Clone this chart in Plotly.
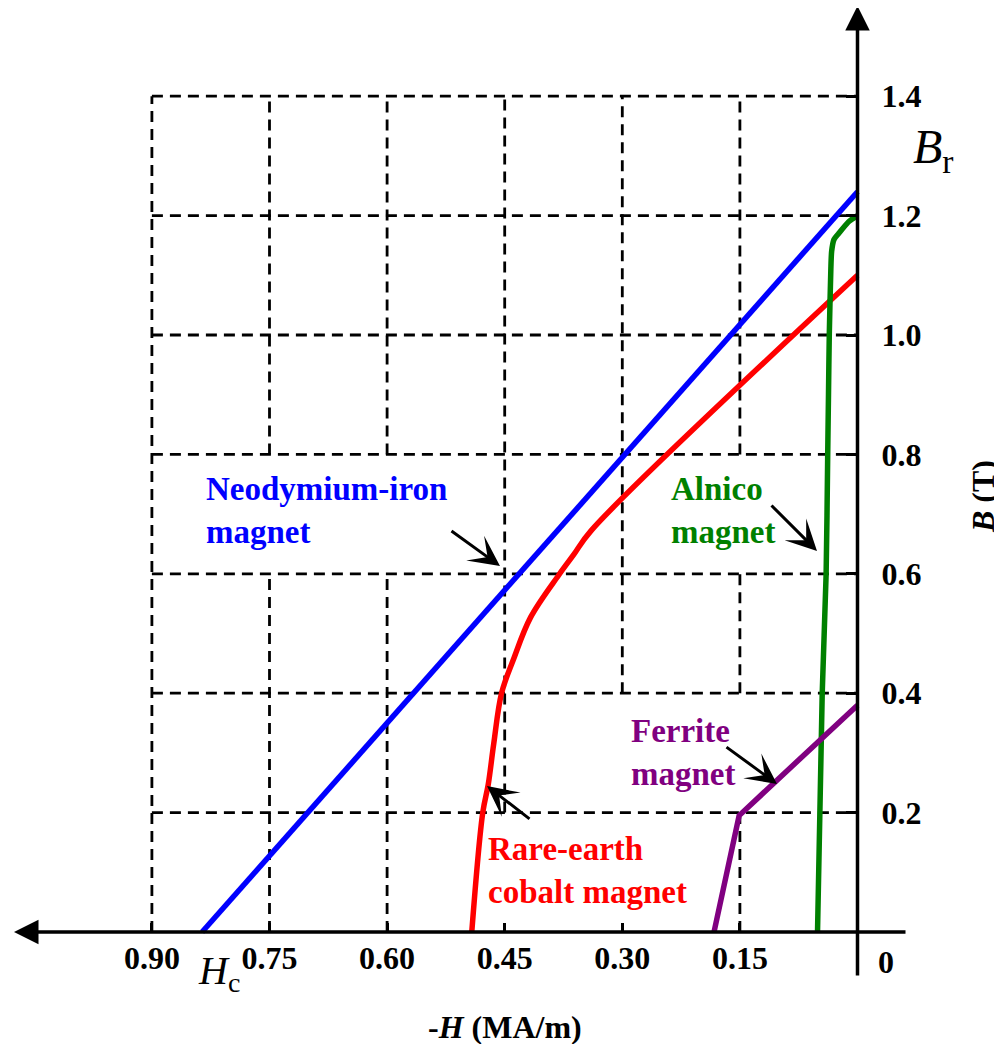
import plotly.graph_objects as go

# ---------------- data ----------------
neo_h = [0.0, 0.836]
neo_b = [1.24, 0.0]

rec_h = [0.0, 0.340, 0.362, 0.381, 0.417, 0.439, 0.454, 0.464, 0.471, 0.478, 0.492]
rec_b = [1.10, 0.672, 0.632, 0.598, 0.527, 0.456, 0.400, 0.315, 0.247, 0.200, 0.0]

aln_h = [0.0, 0.011, 0.024, 0.030, 0.033, 0.034, 0.036, 0.037, 0.038, 0.040, 0.045, 0.051]
aln_b = [1.20, 1.19, 1.17, 1.16, 1.14, 1.11, 1.00, 0.90, 0.80, 0.60, 0.40, 0.0]

fer_h = [0.0, 0.151, 0.183]
fer_b = [0.38, 0.195, 0.0]

h_ticks = [0.15, 0.30, 0.45, 0.60, 0.75, 0.90]
h_tick_labels = ["0.15", "0.30", "0.45", "0.60", "0.75", "0.90"]
b_ticks = [0.2, 0.4, 0.6, 0.8, 1.0, 1.2, 1.4]
b_tick_labels = ["0.2", "0.4", "0.6", "0.8", "1.0", "1.2", "1.4"]

# grid segments (dashed box grid with gaps around labels)
grid_vertical = {
    0.90: [(0.0, 1.4)],
    0.75: [(0.8, 1.4), (0.0, 0.6)],
    0.60: [(0.8, 1.4), (0.0, 0.6)],
    0.45: [(0.2, 1.4)],
    0.30: [(0.4, 1.4)],
    0.15: [(0.8, 1.4), (0.4, 0.6), (0.0, 0.2)],
}
grid_h_span = (0.90, 0.0)

# ---------------- layout geometry ----------------
PAGE_W, PAGE_H = 1002, 1044
OFF = 8                       # browser body margin
W, H = PAGE_W - OFF, PAGE_H - OFF
# page-pixel positions of the origin and scale
X0_PAGE, PX_PER_H = 857.5, 784.0
Y0_PAGE, PX_PER_B = 932.0, 597.0
X0_PX = X0_PAGE - OFF
Y0_PX = Y0_PAGE - OFF


def hx(px):
    """page pixel x -> H value"""
    return (X0_PAGE - px) / PX_PER_H


def by(py):
    """page pixel y -> B value"""
    return (Y0_PAGE - py) / PX_PER_B


FONT = "Liberation Serif, Times New Roman, serif"

fig = go.Figure()

line_w = 5.5
fig.add_trace(go.Scatter(x=neo_h, y=neo_b, mode="lines",
                         line=dict(color="#0000FF", width=line_w), showlegend=False))
fig.add_trace(go.Scatter(x=rec_h, y=rec_b, mode="lines",
                         line=dict(color="#FF0000", width=line_w, shape="spline", smoothing=1.0),
                         showlegend=False))
fig.add_trace(go.Scatter(x=aln_h, y=aln_b, mode="lines",
                         line=dict(color="#008000", width=line_w, shape="spline", smoothing=0.6),
                         showlegend=False))
fig.add_trace(go.Scatter(x=fer_h, y=fer_b, mode="lines",
                         line=dict(color="#800080", width=line_w), showlegend=False))

shapes = []
grid_style = dict(color="black", width=2.8, dash="11px,7px")
for xv, segs in grid_vertical.items():
    for (y0, y1) in segs:
        shapes.append(dict(type="line", xref="x", yref="y", x0=xv, x1=xv, y0=y0, y1=y1,
                           line=grid_style, layer="below"))
for yv in b_ticks:
    shapes.append(dict(type="line", xref="x", yref="y", x0=grid_h_span[0], x1=grid_h_span[1],
                       y0=yv, y1=yv, line=grid_style, layer="below"))

annotations = []
# axis lines with arrow heads
annotations.append(dict(x=hx(14), y=0, ax=hx(907), ay=0, xref="x", yref="y", axref="x", ayref="y",
                        text="", showarrow=True, arrowhead=2, arrowsize=1.4, arrowwidth=3.5,
                        arrowcolor="black", standoff=0, startstandoff=0))
annotations.append(dict(x=0, y=by(6), ax=0, ay=by(977), xref="x", yref="y", axref="x", ayref="y",
                        text="", showarrow=True, arrowhead=2, arrowsize=1.4, arrowwidth=3.5,
                        arrowcolor="black", standoff=0, startstandoff=0))

# curve labels
lab_font = 33
labels = [
    ("<b>Neodymium-iron<br>magnet</b>", "#0000FF", 204, 510),
    ("<b>Alnico<br>magnet</b>", "#008000", 669, 510),
    ("<b>Ferrite<br>magnet</b>", "#800080", 629, 752),
    ("<b>Rare-earth<br>cobalt magnet</b>", "#FF0000", 486, 870),
]
for txt, col, px, py in labels:
    annotations.append(dict(x=hx(px), y=by(py), xref="x", yref="y", text=txt, showarrow=False,
                            xanchor="left", yanchor="middle", align="left",
                            font=dict(family=FONT, size=lab_font, color=col)))

# pointer arrows (tail px, head px)
pointers = [
    ((450, 530), (500, 566)),
    ((770, 504), (817, 551)),
    ((531, 820), (487, 786)),
    ((725, 746), (777, 784)),
]
for (tx, ty), (hx_, hy_) in pointers:
    annotations.append(dict(x=hx(hx_), y=by(hy_), ax=hx(tx), ay=by(ty), xref="x", yref="y",
                            axref="x", ayref="y", text="", showarrow=True, arrowhead=3,
                            arrowsize=1.7, arrowwidth=3, arrowcolor="black",
                            standoff=0, startstandoff=0))

# "0" tick label for the H axis (offset to clear the B axis)
annotations.append(dict(x=0, y=0, xref="x", yref="y", text="<b>0</b>", showarrow=False,
                        xshift=28, yshift=-30, xanchor="center", yanchor="middle",
                        font=dict(family=FONT, size=32, color="black")))

# Br and Hc
annotations.append(dict(x=hx(911), y=by(150), xref="x", yref="y",
                        text="<i>B</i><sub>r</sub>", showarrow=False, xanchor="left", yanchor="middle",
                        font=dict(family=FONT, size=48, color="black")))
annotations.append(dict(x=hx(196), y=by(973), xref="x", yref="y",
                        text="<i>H</i><sub>c</sub>", showarrow=False, xanchor="left", yanchor="middle",
                        font=dict(family=FONT, size=40, color="black")))

# axis titles
annotations.append(dict(x=hx(505), y=by(1027), xref="x", yref="y",
                        text="<b>-<i>H</i> (MA/m)</b>", showarrow=False,
                        xanchor="center", yanchor="middle",
                        font=dict(family=FONT, size=32, color="black")))
annotations.append(dict(x=hx(983), y=by(497), xref="x", yref="y",
                        text="<b><i>B</i> (T)</b>", showarrow=False, textangle=-90,
                        xanchor="center", yanchor="middle",
                        font=dict(family=FONT, size=32, color="black")))

fig.update_layout(
    width=W, height=H,
    margin=dict(l=0, r=0, t=0, b=0, pad=0),
    paper_bgcolor="white", plot_bgcolor="white",
    shapes=shapes, annotations=annotations,
    xaxis=dict(range=[X0_PX / PX_PER_H, (X0_PX - W) / PX_PER_H],
               showgrid=False, zeroline=False, showline=False,
               anchor="free", position=(H - Y0_PX) / H, side="bottom",
               tickvals=h_ticks, ticktext=h_tick_labels,
               ticks="inside", ticklen=9, tickwidth=3, tickcolor="black",
               ticklabelstandoff=4,
               tickfont=dict(family=FONT, size=32, color="black", weight="bold"),
               automargin=False, fixedrange=True),
    yaxis=dict(range=[(Y0_PX - H) / PX_PER_B, Y0_PX / PX_PER_B],
               showgrid=False, zeroline=False, showline=False,
               anchor="free", position=X0_PX / W, side="right",
               tickvals=b_ticks, ticktext=b_tick_labels,
               ticks="inside", ticklen=12, tickwidth=3, tickcolor="black",
               ticklabelstandoff=23,
               tickfont=dict(family=FONT, size=32, color="black", weight="bold"),
               automargin=False, fixedrange=True),
)

fig.write_html("out.html")
